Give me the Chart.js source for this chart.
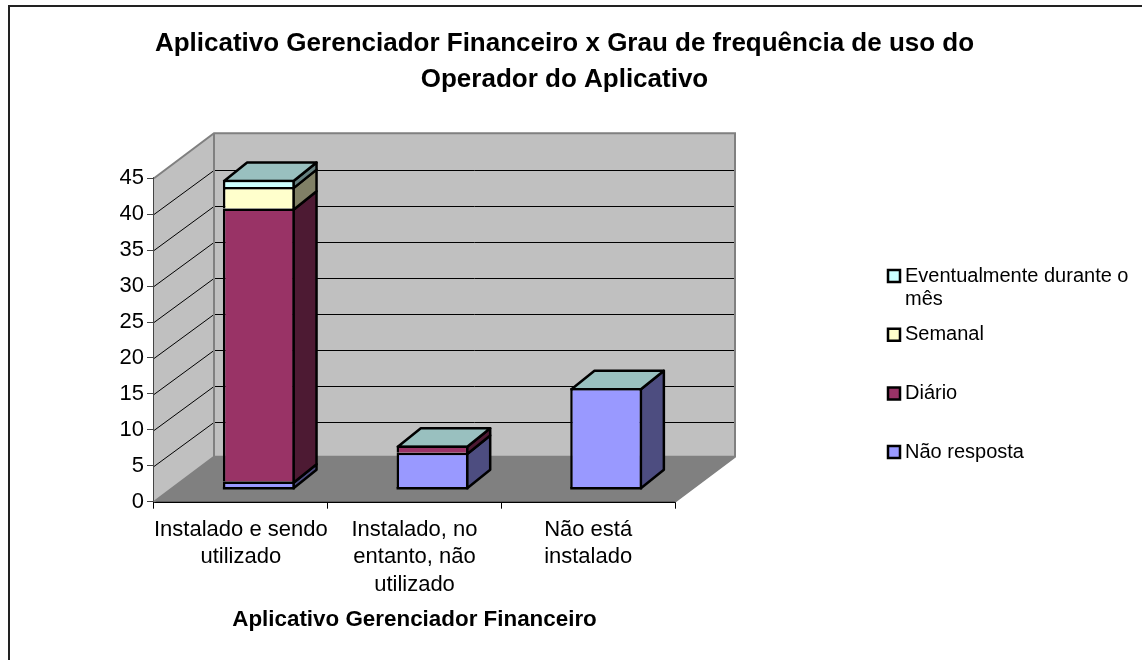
<!DOCTYPE html>
<html>
<head>
<meta charset="utf-8">
<style>html,body{margin:0;padding:0;background:#fff}canvas{display:block}</style>
<script src="https://cdn.jsdelivr.net/npm/chart.js@4"></script>
</head>
<body>
<canvas id="c" width="1142" height="660"></canvas>
<script>
const categories = [["Instalado e sendo","utilizado"],["Instalado, no","entanto, não","utilizado"],["Não está","instalado"]];
const naoResposta = [1, 5, 14];
const diario = [38, 1, null];
const semanal = [3, null, null];
const eventualmente = [1, null, null];
const yTicks = [0,5,10,15,20,25,30,35,40,45];
const titleLines = ["Aplicativo Gerenciador Financeiro x Grau de frequência de uso do","Operador do Aplicativo"];
const xTitle = "Aplicativo Gerenciador Financeiro";
const legendLines = {"Eventualmente durante o mês":["Eventualmente durante o","mês"],"Semanal":["Semanal",""],"Diário":["Diário",""],"Não resposta":["Não resposta",""]};
const FONT = '"Liberation Sans", Arial, sans-serif';

const faces = {
  "#9999FF":"#4D4D80","#993366":"#4D1A33","#FFFFCC":"#808066","#CCFFFF":"#668080"
};
const wallDepth = {dx:60, dy:-45};
const barShift = {dx:18, dy:-13};
const barDepth = {dx:23, dy:-18.5};
const LW = 2.5;

function poly(ctx, pts, fill, stroke, lw){
  ctx.beginPath();
  pts.forEach((p,i)=> i?ctx.lineTo(p[0],p[1]):ctx.moveTo(p[0],p[1]));
  ctx.closePath();
  if(fill){ctx.fillStyle=fill;ctx.fill();}
  if(stroke){ctx.strokeStyle=stroke;ctx.lineWidth=lw;ctx.lineJoin='round';ctx.stroke();}
}

const scene3d = {
  id:'scene3d',
  beforeLayout(chart){
    const lg = chart.legend;
    if(lg && !lg._wrapped){
      const f = lg.fit;
      lg.fit = function(){ f.call(this); this.width = 454; };
      lg._wrapped = true;
    }
  },
  afterLayout(chart){
    const lg = chart.legend;
    lg.left = 880.3; lg.right = 1142; lg.top = 253.3; lg.bottom = 520;
  },
  beforeDraw(chart){
    const c = chart.ctx;
    c.save();
    c.fillStyle='#fff'; c.fillRect(0,0,chart.width,chart.height);
    c.strokeStyle='#222'; c.lineWidth=2;
    c.beginPath(); c.moveTo(9,660); c.lineTo(9,6); c.lineTo(1142,6); c.stroke();
    c.restore();
  },
  beforeDatasetsDraw(chart){
    const c = chart.ctx, y = chart.scales.y, a = chart.chartArea;
    const D = wallDepth;
    const y0 = y.getPixelForValue(0), yM = y.getPixelForValue(45);
    const L = a.left, R = a.right;
    c.save();
    poly(c,[[L,y0],[L+D.dx,y0+D.dy],[L+D.dx,yM+D.dy],[L,yM]],'#C0C0C0');
    poly(c,[[L+D.dx,y0+D.dy],[R+D.dx,y0+D.dy],[R+D.dx,yM+D.dy],[L+D.dx,yM+D.dy]],'#C0C0C0');
    poly(c,[[L,y0],[R,y0],[R+D.dx,y0+D.dy],[L+D.dx,y0+D.dy]],'#808080');
    c.strokeStyle='#000'; c.lineWidth=1;
    yTicks.forEach(v=>{
      if(v===0||v===45) return;
      const p = Math.round(y.getPixelForValue(v))+0.5;
      const b = Math.round(p+D.dy)+0.5;
      c.beginPath(); c.moveTo(L,p); c.lineTo(L+D.dx,b); c.lineTo(R+D.dx,b); c.stroke();
    });
    c.strokeStyle='#808080'; c.lineWidth=2;
    c.beginPath();
    c.moveTo(L,yM); c.lineTo(L+D.dx,yM+D.dy); c.lineTo(R+D.dx,yM+D.dy); c.lineTo(R+D.dx,y0+D.dy); c.lineTo(R,y0);
    c.moveTo(L+D.dx,yM+D.dy); c.lineTo(L+D.dx,y0+D.dy); c.lineTo(L,y0);
    c.moveTo(L+D.dx,y0+D.dy); c.lineTo(R+D.dx,y0+D.dy);
    c.stroke();
    c.restore();
    c.save();
    c.translate(barShift.dx, barShift.dy);
    const d = barDepth, h = LW/2;
    const n = chart.data.labels.length;
    for(let i=0;i<n;i++){
      let top=null;
      chart.data.datasets.forEach((ds,k)=>{
        const el = chart.getDatasetMeta(k).data[i];
        if(ds.data[i]==null) return;
        const r = el.x+el.width/2-h, b = k===0 ? el.base : el.base+h, t = el.y+h;
        poly(c,[[r,b],[r+d.dx,b+d.dy],[r+d.dx,t+d.dy],[r,t]],faces[ds.backgroundColor],'#000',LW);
        top = {l:el.x-el.width/2+h,r,t};
      });
      if(top){
        poly(c,[[top.l,top.t],[top.r,top.t],[top.r+d.dx,top.t+d.dy],[top.l+d.dx,top.t+d.dy]],'#99C0BF','#000',LW);
      }
    }
  },
  afterDatasetsDraw(chart){
    const c = chart.ctx;
    c.strokeStyle='#000'; c.lineWidth=LW;
    chart.getDatasetMeta(0).data.forEach(el=>{
      c.beginPath(); c.moveTo(el.x-el.width/2,el.base); c.lineTo(el.x+el.width/2,el.base); c.stroke();
    });
    c.restore();
  }
};

new Chart(document.getElementById('c'),{
  type:'bar',
  data:{
    labels:categories,
    datasets:[
      {label:"Não resposta",data:naoResposta,backgroundColor:"#9999FF"},
      {label:"Diário",data:diario,backgroundColor:"#993366"},
      {label:"Semanal",data:semanal,backgroundColor:"#FFFFCC"},
      {label:"Eventualmente durante o mês",data:eventualmente,backgroundColor:"#CCFFFF"}
    ].map(d=>Object.assign(d,{borderColor:'#000',borderWidth:LW,
      borderSkipped:'bottom',barPercentage:0.414,categoryPercentage:1}))
  },
  options:{
    responsive:false,
    animation:false,
    devicePixelRatio:1,
    layout:{padding:{left:0,right:13,top:0,bottom:27}},
    plugins:{
      tooltip:{enabled:false},
      title:{
        display:true,text:titleLines,color:'#000',
        font:{family:FONT,size:26,weight:'bold',lineHeight:1.385},
        padding:{top:26,bottom:80.3}
      },
      legend:{
        display:true,position:'right',align:'start',reverse:true,
        labels:{
          color:'#000',font:{family:FONT,size:20,lineHeight:1.15},
          usePointStyle:true,pointStyle:'rect',boxWidth:2,boxHeight:12,padding:12.7,
          generateLabels(chart){
            return chart.data.datasets.map((ds,i)=>({
              text:legendLines[ds.label],fillStyle:ds.backgroundColor,strokeStyle:'#000',lineWidth:2.5,datasetIndex:i,fontColor:'#000',pointStyle:'rect'
            }));
          }
        }
      }
    },
    scales:{
      x:{
        stacked:true,
        afterFit(s){s.height=131.3;},
        grid:{display:true,drawOnChartArea:false,drawTicks:true,tickLength:7,color:'#000'},
        border:{display:true,color:'#000',width:2},
        ticks:{color:'#000',maxRotation:0,minRotation:0,autoSkip:false,padding:7,font:{family:FONT,size:22,lineHeight:1.25}},
        title:{display:true,text:xTitle,color:'#000',font:{family:FONT,size:22.4,weight:'bold'},padding:{top:8,bottom:0}}
      },
      y:{
        stacked:true,min:0,max:45,
        afterFit(s){s.width=154;},
        afterBuildTicks(s){s.ticks=yTicks.map(v=>({value:v}));},
        grid:{display:true,drawOnChartArea:false,drawTicks:true,tickLength:7,color:'#444'},
        border:{display:true,color:'#444',width:2},
        ticks:{color:'#000',padding:3,font:{family:FONT,size:22}}
      }
    }
  },
  plugins:[scene3d]
});
</script>
</body>
</html>
